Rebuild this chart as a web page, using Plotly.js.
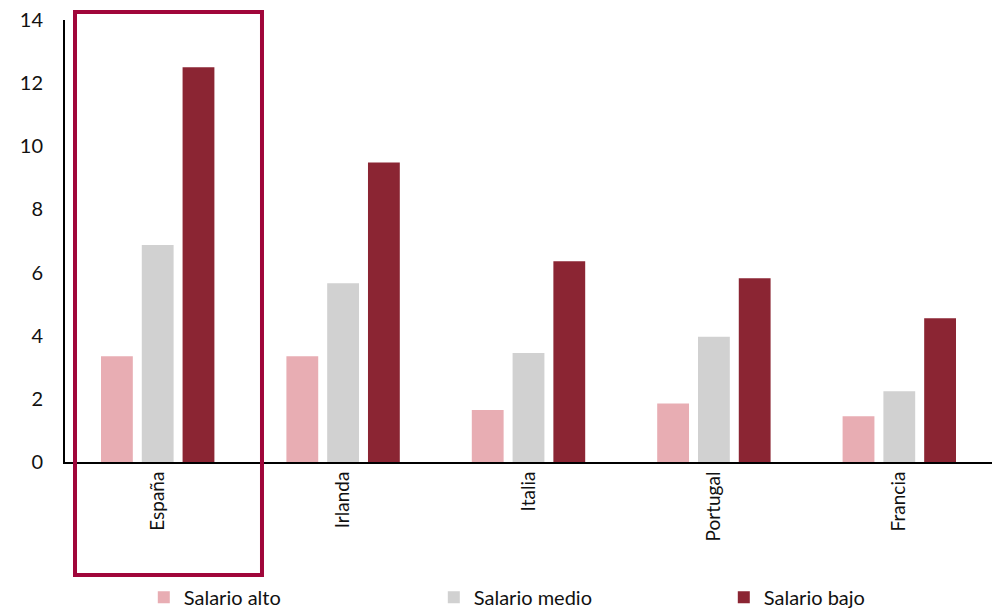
<!DOCTYPE html>
<html>
<head>
<meta charset="utf-8">
<script src="https://cdn.plot.ly/plotly-3.0.1.min.js"></script>
<style>html,body{margin:0;padding:0;background:#fff;}#chart{width:992px;height:613px;}</style>
</head>
<body>
<div id="chart"></div>
<script>
const categories = ["España", "Irlanda", "Italia", "Portugal", "Francia"];
const salarioAlto = [3.35, 3.35, 1.65, 1.85, 1.45];
const salarioMedio = [6.87, 5.66, 3.45, 3.97, 2.24];
const salarioBajo = [12.5, 9.49, 6.36, 5.82, 4.55];
const seriesNames = ["Salario alto", "Salario medio", "Salario bajo"];
const yTicks = [0, 2, 4, 6, 8, 10, 12, 14];

const colors = ["#E8ADB3", "#D1D1D1", "#8B2533"];
const font = "Lato, 'Open Sans', sans-serif";

const traces = [salarioAlto, salarioMedio, salarioBajo].map((vals, i) => ({
  type: "bar",
  x: categories,
  y: vals,
  name: seriesNames[i],
  marker: {color: colors[i]},
  hoverinfo: "skip"
}));

const layout = {
  width: 992, height: 613,
  margin: {l: 65, r: 0, t: 20, b: 151, autoexpand: false},
  paper_bgcolor: "#fff", plot_bgcolor: "#fff",
  font: {family: font, color: "#111", size: 20},
  barmode: "group",
  bargap: 0.34,
  bargroupgap: 0.22,
  showlegend: true,
  legend: {
    orientation: "h",
    x: 0.085, xanchor: "left",
    y: -0.262, yanchor: "top",
    entrywidth: 245, entrywidthmode: "pixels",
    font: {family: font, size: 20, color: "#111"},
    itemwidth: 30,
    tracegroupgap: 0
  },
  xaxis: {
    type: "category",
    showline: true, linecolor: "#000", linewidth: 2,
    ticks: "", tickangle: -90,
    tickfont: {family: font, size: 19, color: "#111"},
    showgrid: false, zeroline: false,
    fixedrange: true
  },
  yaxis: {
    range: [0, 14],
    tickvals: yTicks,
    ticktext: yTicks.map(String),
    showline: true, linecolor: "#000", linewidth: 2,
    ticks: "", showgrid: false, zeroline: false,
    tickfont: {family: font, size: 20, color: "#111"},
    ticklabelstandoff: 16,
    fixedrange: true
  },
  shapes: [{
    type: "rect", xref: "paper", yref: "paper",
    x0: 0.0108, x1: 0.2125, y0: -0.2557, y1: 1.018,
    line: {color: "#A0063A", width: 4},
    fillcolor: "rgba(0,0,0,0)",
    layer: "above"
  }]
};

Plotly.newPlot("chart", traces, layout, {displayModeBar: false, staticPlot: true});
</script>
</body>
</html>
